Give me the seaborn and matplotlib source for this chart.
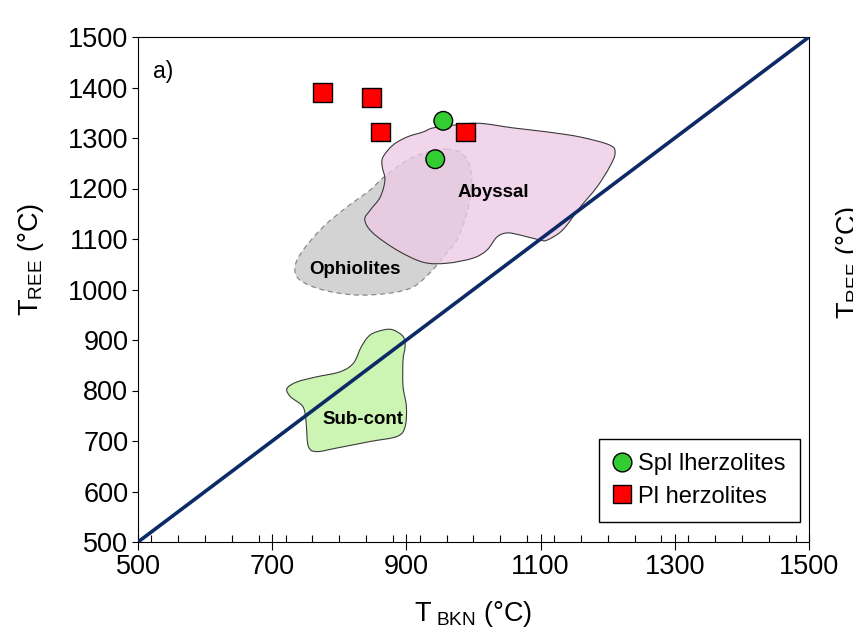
import numpy as np
import pandas as pd
import matplotlib
matplotlib.use("Agg")
import matplotlib.pyplot as plt
from matplotlib.path import Path
from matplotlib.patches import PathPatch
from matplotlib.ticker import MultipleLocator
import seaborn as sns

# ---- sample temperatures (°C) ----
spl_t_bkn = [955, 943]
spl_t_ree = [1334, 1258]
pl_t_bkn = [775, 848, 861, 988]
pl_t_ree = [1390, 1380, 1312, 1312]

# ---- reference fields: outline vertices (T_BKN, T_REE) ----
abyssal_x = [940, 975, 1010, 1059, 1110, 1159, 1203, 1211, 1203, 1184, 1159, 1133,
             1110, 1099, 1069, 1050, 1035, 1020, 999, 960, 925, 886, 850, 838,
             846, 861, 868, 864, 865, 880, 901, 925]
abyssal_y = [1320, 1326, 1329, 1320, 1312, 1302, 1286, 1270, 1243, 1203, 1163, 1118,
             1098, 1098, 1108, 1112, 1104, 1078, 1062, 1052, 1054, 1078, 1112, 1138,
             1157, 1183, 1217, 1243, 1262, 1286, 1302, 1312]

ophiolite_x = [960, 982, 995, 997, 990, 975, 955, 935, 910, 876, 826, 776, 741,
               734, 746, 776, 811, 846, 865, 901, 931]
ophiolite_y = [1278, 1270, 1243, 1203, 1151, 1098, 1064, 1033, 1005, 993, 989, 999,
               1019, 1045, 1078, 1124, 1163, 1197, 1221, 1256, 1272]

subcont_x = [880, 895, 898, 895, 895, 900, 898, 886, 846, 796, 766, 754, 751, 749,
             744, 727, 722, 737, 766, 801, 821, 833, 846, 866]
subcont_y = [920, 907, 887, 860, 808, 768, 728, 709, 699, 686, 679, 689, 728, 755,
             771, 788, 804, 817, 827, 837, 854, 887, 910, 920]

field_labels = ["Abyssal", "Ophiolites", "Sub-cont"]
field_label_x = [1029, 823, 835]
field_label_y = [1193, 1039, 742]

one_to_one = [500, 1500]
x_ticks = [500, 700, 900, 1100, 1300, 1500]
y_ticks = [500, 600, 700, 800, 900, 1000, 1100, 1200, 1300, 1400, 1500]


def closed_spline(xs, ys):
    """Smooth closed outline (Catmull-Rom converted to cubic Bezier segments)."""
    p = np.column_stack([xs, ys]).astype(float)
    n = len(p)
    verts = [p[0]]
    codes = [Path.MOVETO]
    for i in range(n):
        p0, p1, p2, p3 = p[i - 1], p[i], p[(i + 1) % n], p[(i + 2) % n]
        verts += [p1 + (p2 - p0) / 6.0, p2 - (p3 - p1) / 6.0, p2]
        codes += [Path.CURVE4] * 3
    verts.append(p[0])
    codes.append(Path.CLOSEPOLY)
    return Path(verts, codes)


sns.set_theme(style="ticks")
plt.rcParams["font.family"] = ["Liberation Sans", "DejaVu Sans"]
plt.rcParams["mathtext.fontset"] = "custom"
plt.rcParams["mathtext.rm"] = "Liberation Sans"
plt.rcParams["mathtext.it"] = "Liberation Sans:italic"
plt.rcParams["mathtext.bf"] = "Liberation Sans:bold"
for key in ("text.color", "axes.labelcolor", "xtick.color", "ytick.color", "axes.edgecolor"):
    plt.rcParams[key] = "black"

fig = plt.figure(figsize=(8.54, 6.41), dpi=100)
ax = fig.add_axes([138 / 854, 1 - 542 / 641, 671 / 854, 505 / 641])

# fields
ax.add_patch(PathPatch(closed_spline(ophiolite_x, ophiolite_y), facecolor="#d3d3d3",
                       edgecolor="#8a8a8a", linewidth=0.9, linestyle=(0, (4, 3)), zorder=1))
ax.add_patch(PathPatch(closed_spline(abyssal_x, abyssal_y), facecolor=(0.935, 0.79, 0.9, 0.77),
                       edgecolor="#3a3a3a", linewidth=0.8, zorder=2))
ax.add_patch(PathPatch(closed_spline(subcont_x, subcont_y), facecolor="#ccf5b4",
                       edgecolor="#3a3a3a", linewidth=0.8, zorder=2))

for name, lx, ly in zip(field_labels, field_label_x, field_label_y):
    ax.text(lx, ly, name, ha="center", va="center", fontsize=13.5,
            fontweight="bold", color="black", zorder=6)

# 1:1 line
sns.lineplot(x=one_to_one, y=one_to_one, color="#0c2a66", linewidth=2.6, ax=ax, zorder=3)

# samples
df = pd.DataFrame({
    "T_BKN": spl_t_bkn + pl_t_bkn,
    "T_REE": spl_t_ree + pl_t_ree,
    "Type": ["Spl lherzolites"] * len(spl_t_bkn) + ["Pl herzolites"] * len(pl_t_bkn),
})
sns.scatterplot(data=df, x="T_BKN", y="T_REE", hue="Type", style="Type",
                markers={"Spl lherzolites": "o", "Pl herzolites": "s"},
                palette={"Spl lherzolites": "#33cc33", "Pl herzolites": "#ff0000"},
                s=180, edgecolor="black", linewidth=1.0, ax=ax, zorder=5)

handles, labels = ax.get_legend_handles_labels()
keep = [(h, l) for h, l in zip(handles, labels) if l in ("Spl lherzolites", "Pl herzolites")]
leg = ax.legend([k[0] for k in keep], [k[1] for k in keep], loc="lower right",
                bbox_to_anchor=(0.9866, 0.04), fontsize=17, frameon=True, fancybox=False,
                edgecolor="black", framealpha=1, borderpad=0.6, handlelength=0.7,
                handletextpad=0.35, labelspacing=0.45, borderaxespad=0)
leg.get_frame().set_linewidth(1.0)
for h in leg.legend_handles:
    try:
        h.set_markersize(13.5)
        h.set_markeredgecolor("black")
        h.set_markeredgewidth(1.0)
    except AttributeError:
        h.set_sizes([180])
        h.set_edgecolor("black")

ax.text(537, 1431, "a)", fontsize=16.5, ha="center", va="center")

# axes
ax.set_xlim(500, 1500)
ax.set_ylim(500, 1500)
ax.set_xticks(x_ticks)
ax.set_yticks(y_ticks)
ax.xaxis.set_minor_locator(MultipleLocator(40))
ax.tick_params(axis="x", which="major", direction="inout", length=11, width=0.8,
               labelsize=19.5, pad=3)
ax.tick_params(axis="x", which="minor", direction="in", length=5.4, width=0.8)
ax.tick_params(axis="y", which="major", direction="out", length=4, width=0.8,
               labelsize=19.5, pad=3)
for s in ax.spines.values():
    s.set_visible(True)
    s.set_linewidth(0.8)
    s.set_color("black")

ax.set_xlabel(r"T$_{\ \mathregular{BKN}}$ (°C)", fontsize=19.5, labelpad=14)
ax.set_ylabel(r"T$_{\mathregular{REE}}$ (°C)", fontsize=19.5)
ax.yaxis.set_label_coords(-0.137, 0.56)

# next panel's axis label, cut by the figure edge
fig.text(849 / 854, 1 - 262 / 641, r"T$_{\mathregular{REE}}$ (°C)", rotation=90,
         fontsize=19.5, ha="center", va="center")

fig.savefig("out.png", dpi=100)
